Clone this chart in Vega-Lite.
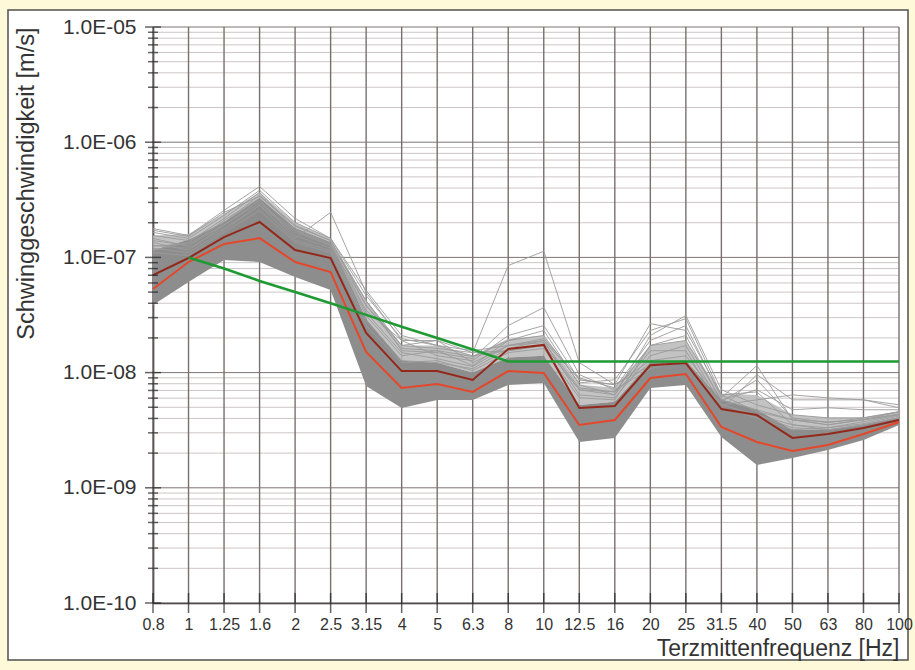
{
  "$schema": "https://vega.github.io/schema/vega-lite/v6.json",
  "width": 900,
  "height": 650,
  "autosize": {"type": "none"},
  "padding": {"left": 8, "top": 10, "right": 7, "bottom": 10},
  "background": "#fef9d8",
  "datasets": {
    "freq": [
      {"f": "0.8"}, {"f": "1"}, {"f": "1.25"}, {"f": "1.6"}, {"f": "2"}, {"f": "2.5"}, {"f": "3.15"}, {"f": "4"}, {"f": "5"}, {"f": "6.3"}, {"f": "8"},
      {"f": "10"}, {"f": "12.5"}, {"f": "16"}, {"f": "20"}, {"f": "25"}, {"f": "31.5"}, {"f": "40"}, {"f": "50"}, {"f": "63"}, {"f": "80"}, {"f": "100"}
    ],
    "yticks": [
      {"v": 1e-10, "kind": "major"}, {"v": 1e-9, "kind": "major"}, {"v": 1e-8, "kind": "major"}, {"v": 1e-7, "kind": "major"}, {"v": 1e-6, "kind": "major"}, {"v": 1e-5, "kind": "major"},
      {"v": 2e-10, "kind": "minor"}, {"v": 3e-10, "kind": "minor"}, {"v": 4e-10, "kind": "minor"}, {"v": 5e-10, "kind": "minor"}, {"v": 6e-10, "kind": "minor"}, {"v": 7e-10, "kind": "minor"}, {"v": 8e-10, "kind": "minor"}, {"v": 9e-10, "kind": "minor"},
      {"v": 2e-9, "kind": "minor"}, {"v": 3e-9, "kind": "minor"}, {"v": 4e-9, "kind": "minor"}, {"v": 5e-9, "kind": "minor"}, {"v": 6e-9, "kind": "minor"}, {"v": 7e-9, "kind": "minor"}, {"v": 8e-9, "kind": "minor"}, {"v": 9e-9, "kind": "minor"},
      {"v": 2e-8, "kind": "minor"}, {"v": 3e-8, "kind": "minor"}, {"v": 4e-8, "kind": "minor"}, {"v": 5e-8, "kind": "minor"}, {"v": 6e-8, "kind": "minor"}, {"v": 7e-8, "kind": "minor"}, {"v": 8e-8, "kind": "minor"}, {"v": 9e-8, "kind": "minor"},
      {"v": 2e-7, "kind": "minor"}, {"v": 3e-7, "kind": "minor"}, {"v": 4e-7, "kind": "minor"}, {"v": 5e-7, "kind": "minor"}, {"v": 6e-7, "kind": "minor"}, {"v": 7e-7, "kind": "minor"}, {"v": 8e-7, "kind": "minor"}, {"v": 9e-7, "kind": "minor"},
      {"v": 2e-6, "kind": "minor"}, {"v": 3e-6, "kind": "minor"}, {"v": 4e-6, "kind": "minor"}, {"v": 5e-6, "kind": "minor"}, {"v": 6e-6, "kind": "minor"}, {"v": 7e-6, "kind": "minor"}, {"v": 8e-6, "kind": "minor"}, {"v": 9e-6, "kind": "minor"}
    ],
    "band": [
      {"f": "0.8", "lo": 3.86e-8, "core": 1.16e-7, "hull": 1.55e-7},
      {"f": "1", "lo": 6.12e-8, "core": 1.42e-7, "hull": 1.6e-7},
      {"f": "1.25", "lo": 9.49e-8, "core": 2.03e-7, "hull": 2.4e-7},
      {"f": "1.6", "lo": 9.12e-8, "core": 3.28e-7, "hull": 3.67e-7},
      {"f": "2", "lo": 6.76e-8, "core": 1.8e-7, "hull": 2.01e-7},
      {"f": "2.5", "lo": 5.21e-8, "core": 1.36e-7, "hull": 1.46e-7},
      {"f": "3.15", "lo": 7.65e-9, "core": 2.94e-8, "hull": 4.2e-8},
      {"f": "4", "lo": 4.93e-9, "core": 1.27e-8, "hull": 1.72e-8},
      {"f": "5", "lo": 5.78e-9, "core": 1.22e-8, "hull": 1.72e-8},
      {"f": "6.3", "lo": 5.78e-9, "core": 1.0e-8, "hull": 1.4e-8},
      {"f": "8", "lo": 7.8e-9, "core": 1.35e-8, "hull": 1.97e-8},
      {"f": "10", "lo": 8.12e-9, "core": 1.4e-8, "hull": 2.1e-8},
      {"f": "12.5", "lo": 2.5e-9, "core": 5.23e-9, "hull": 7.85e-9},
      {"f": "16", "lo": 2.71e-9, "core": 5.58e-9, "hull": 7.37e-9},
      {"f": "20", "lo": 7.35e-9, "core": 1.22e-8, "hull": 1.72e-8},
      {"f": "25", "lo": 7.8e-9, "core": 1.27e-8, "hull": 1.9e-8},
      {"f": "31.5", "lo": 2.76e-9, "core": 5.8e-9, "hull": 6.6e-9},
      {"f": "40", "lo": 1.58e-9, "core": 4.76e-9, "hull": 6.4e-9},
      {"f": "50", "lo": 1.81e-9, "core": 3.19e-9, "hull": 4.3e-9},
      {"f": "63", "lo": 2.13e-9, "core": 3.19e-9, "hull": 4.05e-9},
      {"f": "80", "lo": 2.6e-9, "core": 3.52e-9, "hull": 4.05e-9},
      {"f": "100", "lo": 3.51e-9, "core": 4.05e-9, "hull": 4.57e-9}
    ],
    "traces": [
      {"run": 1, "f": "0.8", "v": 1.78e-7}, {"run": 1, "f": "1", "v": 1.55e-7}, {"run": 1, "f": "1.25", "v": 2.56e-7}, {"run": 1, "f": "1.6", "v": 4.13e-7}, {"run": 1, "f": "2", "v": 2.18e-7}, {"run": 1, "f": "2.5", "v": 1.46e-7}, {"run": 1, "f": "3.15", "v": 5.16e-8}, {"run": 1, "f": "4", "v": 2.1e-8}, {"run": 1, "f": "5", "v": 1.72e-8}, {"run": 1, "f": "6.3", "v": 1.55e-8}, {"run": 1, "f": "8", "v": 1.72e-8}, {"run": 1, "f": "10", "v": 1.9e-8}, {"run": 1, "f": "12.5", "v": 8.67e-9}, {"run": 1, "f": "16", "v": 7.85e-9}, {"run": 1, "f": "20", "v": 1.27e-8}, {"run": 1, "f": "25", "v": 1.4e-8}, {"run": 1, "f": "31.5", "v": 5.8e-9}, {"run": 1, "f": "40", "v": 4.76e-9}, {"run": 1, "f": "50", "v": 3.9e-9}, {"run": 1, "f": "63", "v": 3.74e-9}, {"run": 1, "f": "80", "v": 3.9e-9}, {"run": 1, "f": "100", "v": 4.57e-9},
      {"run": 2, "f": "0.8", "v": 1.4e-7}, {"run": 2, "f": "1", "v": 1.27e-7}, {"run": 2, "f": "1.25", "v": 1.9e-7}, {"run": 2, "f": "1.6", "v": 3.13e-7}, {"run": 2, "f": "2", "v": 1.46e-7}, {"run": 2, "f": "2.5", "v": 2.46e-7}, {"run": 2, "f": "3.15", "v": 4.95e-8}, {"run": 2, "f": "4", "v": 1.9e-8}, {"run": 2, "f": "5", "v": 1.9e-8}, {"run": 2, "f": "6.3", "v": 1.49e-8}, {"run": 2, "f": "8", "v": 1.55e-8}, {"run": 2, "f": "10", "v": 1.72e-8}, {"run": 2, "f": "12.5", "v": 7.1e-9}, {"run": 2, "f": "16", "v": 6.8e-9}, {"run": 2, "f": "20", "v": 1.22e-8}, {"run": 2, "f": "25", "v": 1.27e-8}, {"run": 2, "f": "31.5", "v": 5.25e-9}, {"run": 2, "f": "40", "v": 4.3e-9}, {"run": 2, "f": "50", "v": 3.32e-9}, {"run": 2, "f": "63", "v": 3.19e-9}, {"run": 2, "f": "80", "v": 3.52e-9}, {"run": 2, "f": "100", "v": 4.05e-9},
      {"run": 3, "f": "0.8", "v": 1.27e-7}, {"run": 3, "f": "1", "v": 1.2e-7}, {"run": 3, "f": "1.25", "v": 1.78e-7}, {"run": 3, "f": "1.6", "v": 2.83e-7}, {"run": 3, "f": "2", "v": 1.65e-7}, {"run": 3, "f": "2.5", "v": 1.27e-7}, {"run": 3, "f": "3.15", "v": 3.82e-8}, {"run": 3, "f": "4", "v": 1.72e-8}, {"run": 3, "f": "5", "v": 1.62e-8}, {"run": 3, "f": "6.3", "v": 1.49e-8}, {"run": 3, "f": "8", "v": 8.5e-8}, {"run": 3, "f": "10", "v": 1.13e-7}, {"run": 3, "f": "12.5", "v": 1.22e-8}, {"run": 3, "f": "16", "v": 7.85e-9}, {"run": 3, "f": "20", "v": 1.15e-8}, {"run": 3, "f": "25", "v": 1.22e-8}, {"run": 3, "f": "31.5", "v": 5.25e-9}, {"run": 3, "f": "40", "v": 4.3e-9}, {"run": 3, "f": "50", "v": 3.52e-9}, {"run": 3, "f": "63", "v": 3.32e-9}, {"run": 3, "f": "80", "v": 3.74e-9}, {"run": 3, "f": "100", "v": 4.3e-9},
      {"run": 4, "f": "0.8", "v": 1.55e-7}, {"run": 4, "f": "1", "v": 1.4e-7}, {"run": 4, "f": "1.25", "v": 2.01e-7}, {"run": 4, "f": "1.6", "v": 3.46e-7}, {"run": 4, "f": "2", "v": 1.9e-7}, {"run": 4, "f": "2.5", "v": 1.4e-7}, {"run": 4, "f": "3.15", "v": 4.2e-8}, {"run": 4, "f": "4", "v": 1.55e-8}, {"run": 4, "f": "5", "v": 1.49e-8}, {"run": 4, "f": "6.3", "v": 1.32e-8}, {"run": 4, "f": "8", "v": 2.56e-8}, {"run": 4, "f": "10", "v": 3.67e-8}, {"run": 4, "f": "12.5", "v": 9.6e-9}, {"run": 4, "f": "16", "v": 7.1e-9}, {"run": 4, "f": "20", "v": 1.08e-8}, {"run": 4, "f": "25", "v": 1.27e-8}, {"run": 4, "f": "31.5", "v": 4.95e-9}, {"run": 4, "f": "40", "v": 4.05e-9}, {"run": 4, "f": "50", "v": 3.19e-9}, {"run": 4, "f": "63", "v": 3.32e-9}, {"run": 4, "f": "80", "v": 3.6e-9}, {"run": 4, "f": "100", "v": 4.2e-9},
      {"run": 5, "f": "0.8", "v": 1.15e-7}, {"run": 5, "f": "1", "v": 1.35e-7}, {"run": 5, "f": "1.25", "v": 2.18e-7}, {"run": 5, "f": "1.6", "v": 3.67e-7}, {"run": 5, "f": "2", "v": 1.72e-7}, {"run": 5, "f": "2.5", "v": 1.3e-7}, {"run": 5, "f": "3.15", "v": 3.46e-8}, {"run": 5, "f": "4", "v": 1.9e-8}, {"run": 5, "f": "5", "v": 1.4e-8}, {"run": 5, "f": "6.3", "v": 1.27e-8}, {"run": 5, "f": "8", "v": 2.1e-8}, {"run": 5, "f": "10", "v": 2.56e-8}, {"run": 5, "f": "12.5", "v": 8.67e-9}, {"run": 5, "f": "16", "v": 7.85e-9}, {"run": 5, "f": "20", "v": 2.66e-8}, {"run": 5, "f": "25", "v": 2.32e-8}, {"run": 5, "f": "31.5", "v": 6.4e-9}, {"run": 5, "f": "40", "v": 4.57e-9}, {"run": 5, "f": "50", "v": 3.9e-9}, {"run": 5, "f": "63", "v": 3.52e-9}, {"run": 5, "f": "80", "v": 3.9e-9}, {"run": 5, "f": "100", "v": 4.38e-9},
      {"run": 6, "f": "0.8", "v": 1.35e-7}, {"run": 6, "f": "1", "v": 1.15e-7}, {"run": 6, "f": "1.25", "v": 1.9e-7}, {"run": 6, "f": "1.6", "v": 3.13e-7}, {"run": 6, "f": "2", "v": 1.55e-7}, {"run": 6, "f": "2.5", "v": 1.2e-7}, {"run": 6, "f": "3.15", "v": 3.13e-8}, {"run": 6, "f": "4", "v": 1.4e-8}, {"run": 6, "f": "5", "v": 1.55e-8}, {"run": 6, "f": "6.3", "v": 1.15e-8}, {"run": 6, "f": "8", "v": 1.9e-8}, {"run": 6, "f": "10", "v": 2.32e-8}, {"run": 6, "f": "12.5", "v": 7.85e-9}, {"run": 6, "f": "16", "v": 6.4e-9}, {"run": 6, "f": "20", "v": 2.1e-8}, {"run": 6, "f": "25", "v": 3.13e-8}, {"run": 6, "f": "31.5", "v": 7.1e-9}, {"run": 6, "f": "40", "v": 5.25e-9}, {"run": 6, "f": "50", "v": 4.3e-9}, {"run": 6, "f": "63", "v": 4.05e-9}, {"run": 6, "f": "80", "v": 4.05e-9}, {"run": 6, "f": "100", "v": 4.57e-9},
      {"run": 7, "f": "0.8", "v": 1.46e-7}, {"run": 7, "f": "1", "v": 1.25e-7}, {"run": 7, "f": "1.25", "v": 2.1e-7}, {"run": 7, "f": "1.6", "v": 3.26e-7}, {"run": 7, "f": "2", "v": 1.78e-7}, {"run": 7, "f": "2.5", "v": 1.32e-7}, {"run": 7, "f": "3.15", "v": 4.2e-8}, {"run": 7, "f": "4", "v": 1.72e-8}, {"run": 7, "f": "5", "v": 1.9e-8}, {"run": 7, "f": "6.3", "v": 1.22e-8}, {"run": 7, "f": "8", "v": 1.72e-8}, {"run": 7, "f": "10", "v": 1.97e-8}, {"run": 7, "f": "12.5", "v": 9.0e-9}, {"run": 7, "f": "16", "v": 7.37e-9}, {"run": 7, "f": "20", "v": 1.9e-8}, {"run": 7, "f": "25", "v": 2.56e-8}, {"run": 7, "f": "31.5", "v": 6.04e-9}, {"run": 7, "f": "40", "v": 1.15e-8}, {"run": 7, "f": "50", "v": 3.9e-9}, {"run": 7, "f": "63", "v": 3.52e-9}, {"run": 7, "f": "80", "v": 3.9e-9}, {"run": 7, "f": "100", "v": 4.3e-9},
      {"run": 8, "f": "0.8", "v": 1.65e-7}, {"run": 8, "f": "1", "v": 1.46e-7}, {"run": 8, "f": "1.25", "v": 2.32e-7}, {"run": 8, "f": "1.6", "v": 3.82e-7}, {"run": 8, "f": "2", "v": 2.01e-7}, {"run": 8, "f": "2.5", "v": 1.46e-7}, {"run": 8, "f": "3.15", "v": 4.66e-8}, {"run": 8, "f": "4", "v": 1.97e-8}, {"run": 8, "f": "5", "v": 1.72e-8}, {"run": 8, "f": "6.3", "v": 1.4e-8}, {"run": 8, "f": "8", "v": 1.55e-8}, {"run": 8, "f": "10", "v": 1.72e-8}, {"run": 8, "f": "12.5", "v": 7.1e-9}, {"run": 8, "f": "16", "v": 6.4e-9}, {"run": 8, "f": "20", "v": 1.55e-8}, {"run": 8, "f": "25", "v": 1.55e-8}, {"run": 8, "f": "31.5", "v": 4.76e-9}, {"run": 8, "f": "40", "v": 9.6e-9}, {"run": 8, "f": "50", "v": 5.8e-9}, {"run": 8, "f": "63", "v": 5.8e-9}, {"run": 8, "f": "80", "v": 5.8e-9}, {"run": 8, "f": "100", "v": 5.25e-9},
      {"run": 9, "f": "0.8", "v": 1.2e-7}, {"run": 9, "f": "1", "v": 1.1e-7}, {"run": 9, "f": "1.25", "v": 1.72e-7}, {"run": 9, "f": "1.6", "v": 2.83e-7}, {"run": 9, "f": "2", "v": 1.4e-7}, {"run": 9, "f": "2.5", "v": 1.15e-7}, {"run": 9, "f": "3.15", "v": 2.83e-8}, {"run": 9, "f": "4", "v": 1.27e-8}, {"run": 9, "f": "5", "v": 1.22e-8}, {"run": 9, "f": "6.3", "v": 1.08e-8}, {"run": 9, "f": "8", "v": 1.62e-8}, {"run": 9, "f": "10", "v": 1.9e-8}, {"run": 9, "f": "12.5", "v": 6.4e-9}, {"run": 9, "f": "16", "v": 6.04e-9}, {"run": 9, "f": "20", "v": 1.4e-8}, {"run": 9, "f": "25", "v": 1.72e-8}, {"run": 9, "f": "31.5", "v": 5.25e-9}, {"run": 9, "f": "40", "v": 5.8e-9}, {"run": 9, "f": "50", "v": 6.4e-9}, {"run": 9, "f": "63", "v": 6.04e-9}, {"run": 9, "f": "80", "v": 5.8e-9}, {"run": 9, "f": "100", "v": 4.95e-9},
      {"run": 10, "f": "0.8", "v": 1.1e-7}, {"run": 10, "f": "1", "v": 1.04e-7}, {"run": 10, "f": "1.25", "v": 1.65e-7}, {"run": 10, "f": "1.6", "v": 2.56e-7}, {"run": 10, "f": "2", "v": 1.35e-7}, {"run": 10, "f": "2.5", "v": 1.1e-7}, {"run": 10, "f": "3.15", "v": 2.56e-8}, {"run": 10, "f": "4", "v": 1.22e-8}, {"run": 10, "f": "5", "v": 1.27e-8}, {"run": 10, "f": "6.3", "v": 1.04e-8}, {"run": 10, "f": "8", "v": 1.49e-8}, {"run": 10, "f": "10", "v": 1.62e-8}, {"run": 10, "f": "12.5", "v": 6.04e-9}, {"run": 10, "f": "16", "v": 5.8e-9}, {"run": 10, "f": "20", "v": 1.72e-8}, {"run": 10, "f": "25", "v": 1.9e-8}, {"run": 10, "f": "31.5", "v": 5.8e-9}, {"run": 10, "f": "40", "v": 7.1e-9}, {"run": 10, "f": "50", "v": 4.76e-9}, {"run": 10, "f": "63", "v": 4.95e-9}, {"run": 10, "f": "80", "v": 4.76e-9}, {"run": 10, "f": "100", "v": 4.76e-9},
      {"run": 11, "f": "0.8", "v": 1.72e-7}, {"run": 11, "f": "1", "v": 1.52e-7}, {"run": 11, "f": "1.25", "v": 2.46e-7}, {"run": 11, "f": "1.6", "v": 3.39e-7}, {"run": 11, "f": "2", "v": 1.86e-7}, {"run": 11, "f": "2.5", "v": 1.4e-7}, {"run": 11, "f": "3.15", "v": 3.82e-8}, {"run": 11, "f": "4", "v": 1.62e-8}, {"run": 11, "f": "5", "v": 1.55e-8}, {"run": 11, "f": "6.3", "v": 1.38e-8}, {"run": 11, "f": "8", "v": 1.9e-8}, {"run": 11, "f": "10", "v": 2.1e-8}, {"run": 11, "f": "12.5", "v": 8.15e-9}, {"run": 11, "f": "16", "v": 8.67e-9}, {"run": 11, "f": "20", "v": 2.32e-8}, {"run": 11, "f": "25", "v": 2.94e-8}, {"run": 11, "f": "31.5", "v": 6.4e-9}, {"run": 11, "f": "40", "v": 6.8e-9}, {"run": 11, "f": "50", "v": 3.52e-9}, {"run": 11, "f": "63", "v": 3.19e-9}, {"run": 11, "f": "80", "v": 3.52e-9}, {"run": 11, "f": "100", "v": 4.05e-9},
      {"run": 12, "f": "0.8", "v": 1.25e-7}, {"run": 12, "f": "1", "v": 1.32e-7}, {"run": 12, "f": "1.25", "v": 1.93e-7}, {"run": 12, "f": "1.6", "v": 2.94e-7}, {"run": 12, "f": "2", "v": 1.72e-7}, {"run": 12, "f": "2.5", "v": 1.25e-7}, {"run": 12, "f": "3.15", "v": 3.32e-8}, {"run": 12, "f": "4", "v": 1.49e-8}, {"run": 12, "f": "5", "v": 1.32e-8}, {"run": 12, "f": "6.3", "v": 1.13e-8}, {"run": 12, "f": "8", "v": 1.72e-8}, {"run": 12, "f": "10", "v": 1.82e-8}, {"run": 12, "f": "12.5", "v": 7.37e-9}, {"run": 12, "f": "16", "v": 6.8e-9}, {"run": 12, "f": "20", "v": 1.72e-8}, {"run": 12, "f": "25", "v": 2.1e-8}, {"run": 12, "f": "31.5", "v": 5.58e-9}, {"run": 12, "f": "40", "v": 8.67e-9}, {"run": 12, "f": "50", "v": 4.05e-9}, {"run": 12, "f": "63", "v": 3.67e-9}, {"run": 12, "f": "80", "v": 4.05e-9}, {"run": 12, "f": "100", "v": 4.57e-9}
    ],
    "kurven": [
      {"kurve": "oben", "f": "0.8", "v": 7.03e-8}, {"kurve": "oben", "f": "1", "v": 9.88e-8}, {"kurve": "oben", "f": "1.25", "v": 1.5e-7}, {"kurve": "oben", "f": "1.6", "v": 2.03e-7}, {"kurve": "oben", "f": "2", "v": 1.16e-7}, {"kurve": "oben", "f": "2.5", "v": 9.88e-8}, {"kurve": "oben", "f": "3.15", "v": 2.21e-8}, {"kurve": "oben", "f": "4", "v": 1.03e-8}, {"kurve": "oben", "f": "5", "v": 1.03e-8}, {"kurve": "oben", "f": "6.3", "v": 8.63e-9}, {"kurve": "oben", "f": "8", "v": 1.6e-8}, {"kurve": "oben", "f": "10", "v": 1.74e-8}, {"kurve": "oben", "f": "12.5", "v": 4.93e-9}, {"kurve": "oben", "f": "16", "v": 5.13e-9}, {"kurve": "oben", "f": "20", "v": 1.16e-8}, {"kurve": "oben", "f": "25", "v": 1.21e-8}, {"kurve": "oben", "f": "31.5", "v": 4.83e-9}, {"kurve": "oben", "f": "40", "v": 4.28e-9}, {"kurve": "oben", "f": "50", "v": 2.71e-9}, {"kurve": "oben", "f": "63", "v": 2.93e-9}, {"kurve": "oben", "f": "80", "v": 3.3e-9}, {"kurve": "oben", "f": "100", "v": 3.88e-9},
      {"kurve": "mitte", "f": "0.8", "v": 5.32e-8}, {"kurve": "mitte", "f": "1", "v": 9.12e-8}, {"kurve": "mitte", "f": "1.25", "v": 1.31e-7}, {"kurve": "mitte", "f": "1.6", "v": 1.47e-7}, {"kurve": "mitte", "f": "2", "v": 9.12e-8}, {"kurve": "mitte", "f": "2.5", "v": 7.47e-8}, {"kurve": "mitte", "f": "3.15", "v": 1.51e-8}, {"kurve": "mitte", "f": "4", "v": 7.35e-9}, {"kurve": "mitte", "f": "5", "v": 7.96e-9}, {"kurve": "mitte", "f": "6.3", "v": 6.79e-9}, {"kurve": "mitte", "f": "8", "v": 1.03e-8}, {"kurve": "mitte", "f": "10", "v": 9.92e-9}, {"kurve": "mitte", "f": "12.5", "v": 3.51e-9}, {"kurve": "mitte", "f": "16", "v": 3.88e-9}, {"kurve": "mitte", "f": "20", "v": 8.98e-9}, {"kurve": "mitte", "f": "25", "v": 9.72e-9}, {"kurve": "mitte", "f": "31.5", "v": 3.37e-9}, {"kurve": "mitte", "f": "40", "v": 2.5e-9}, {"kurve": "mitte", "f": "50", "v": 2.09e-9}, {"kurve": "mitte", "f": "63", "v": 2.35e-9}, {"kurve": "mitte", "f": "80", "v": 2.93e-9}, {"kurve": "mitte", "f": "100", "v": 3.73e-9}
    ],
    "grenze": [
      {"f": "1", "v": 1e-7}, {"f": "1.25", "v": 8e-8}, {"f": "1.6", "v": 6.25e-8}, {"f": "2", "v": 5e-8}, {"f": "2.5", "v": 4e-8}, {"f": "3.15", "v": 3.17e-8}, {"f": "4", "v": 2.5e-8}, {"f": "5", "v": 2e-8}, {"f": "6.3", "v": 1.59e-8}, {"f": "8", "v": 1.25e-8},
      {"f": "10", "v": 1.25e-8}, {"f": "12.5", "v": 1.25e-8}, {"f": "16", "v": 1.25e-8}, {"f": "20", "v": 1.25e-8}, {"f": "25", "v": 1.25e-8}, {"f": "31.5", "v": 1.25e-8}, {"f": "40", "v": 1.25e-8}, {"f": "50", "v": 1.25e-8}, {"f": "63", "v": 1.25e-8}, {"f": "80", "v": 1.25e-8}, {"f": "100", "v": 1.25e-8}
    ]
  },
  "layer": [
    {
      "data": {"name": "yticks"},
      "mark": {"type": "rule", "strokeWidth": 1},
      "encoding": {
        "x": {"datum": "0.8", "type": "ordinal",
          "scale": {"type": "point", "domain": ["0.8","1","1.25","1.6","2","2.5","3.15","4","5","6.3","8","10","12.5","16","20","25","31.5","40","50","63","80","100"], "range": [145, 891], "padding": 0},
          "axis": {"title": "Terzmittenfrequenz [Hz]", "labelAngle": 0}},
        "x2": {"datum": "100"},
        "y": {"field": "v", "type": "quantitative",
          "scale": {"type": "log", "domain": [1e-10, 1e-5], "range": [593, 17], "nice": false},
          "axis": {"title": "Schwinggeschwindigkeit [m/s]", "values": [1e-10, 1e-9, 1e-8, 1e-7, 1e-6, 1e-5],
            "labelExpr": "'1.0E-' + (round(-log(datum.value)/LN10) < 10 ? '0' : '') + round(-log(datum.value)/LN10)"}},
        "color": {"condition": {"test": "datum.kind === 'major'", "value": "#7f7474"}, "value": "#cdc6c6"},
        "strokeWidth": {"condition": {"test": "datum.kind === 'major'", "value": 1.4}, "value": 1}
      }
    },
    {
      "data": {"name": "freq"},
      "mark": {"type": "rule", "color": "#7a6f6f", "strokeWidth": 1.4},
      "encoding": {
        "x": {"field": "f", "type": "ordinal"},
        "y": {"datum": 1e-10},
        "y2": {"datum": 1e-5}
      }
    },
    {
      "data": {"name": "band"},
      "mark": {"type": "area", "color": "#b9b9b9", "opacity": 0.85},
      "encoding": {
        "x": {"field": "f", "type": "ordinal", "sort": null},
        "y": {"field": "core", "type": "quantitative"},
        "y2": {"field": "hull"}
      }
    },
    {
      "data": {"name": "band"},
      "mark": {"type": "area", "color": "#8d8d8d"},
      "encoding": {
        "x": {"field": "f", "type": "ordinal", "sort": null},
        "y": {"field": "lo", "type": "quantitative"},
        "y2": {"field": "core"}
      }
    },
    {
      "data": {"name": "traces"},
      "mark": {"type": "line", "color": "#9b9b9b", "strokeWidth": 0.9},
      "encoding": {
        "x": {"field": "f", "type": "ordinal", "sort": null},
        "y": {"field": "v", "type": "quantitative"},
        "detail": {"field": "run"}
      }
    },
    {
      "data": {"name": "kurven"},
      "mark": {"type": "line", "strokeWidth": 2},
      "encoding": {
        "x": {"field": "f", "type": "ordinal", "sort": null},
        "y": {"field": "v", "type": "quantitative"},
        "color": {"field": "kurve", "type": "nominal", "legend": null,
          "scale": {"domain": ["oben", "mitte"], "range": ["#93291b", "#e4472a"]}}
      }
    },
    {
      "data": {"name": "grenze"},
      "mark": {"type": "line", "color": "#1f9a33", "strokeWidth": 2.6},
      "encoding": {
        "x": {"field": "f", "type": "ordinal", "sort": null},
        "y": {"field": "v", "type": "quantitative"}
      }
    },
    {
      "data": {"name": "yticks"},
      "mark": {"type": "tick", "orient": "horizontal", "color": "#222222", "thickness": 1.5},
      "encoding": {
        "x": {"datum": "0.8", "type": "ordinal"},
        "y": {"field": "v", "type": "quantitative"},
        "size": {"condition": {"test": "datum.kind === 'major'", "value": 16}, "value": 10}
      }
    },
    {
      "data": {"name": "freq"},
      "mark": {"type": "tick", "orient": "vertical", "color": "#222222", "thickness": 1.5, "size": 20},
      "encoding": {
        "x": {"field": "f", "type": "ordinal"},
        "y": {"datum": 1e-10}
      }
    }
  ],
  "config": {
    "font": "Liberation Sans",
    "view": {"fill": "#ffffff", "stroke": "#505050", "strokeWidth": 1.5},
    "axis": {"grid": false, "domainColor": "#222222", "domainWidth": 1.6, "labelColor": "#333333", "titleColor": "#333333", "titleFontWeight": "normal", "labelFont": "Liberation Sans", "titleFont": "Liberation Sans"},
    "axisY": {"offset": -145, "ticks": false, "tickSize": 0, "labelPadding": 17, "labelFontSize": 21, "titleFontSize": 23.5, "titleAnchor": "end", "titlePadding": 24},
    "axisX": {"offset": -57, "ticks": false, "tickSize": 0, "labelPadding": 13, "labelFontSize": 16, "titleFontSize": 23, "titleAnchor": "end", "titlePadding": 5}
  }
}
